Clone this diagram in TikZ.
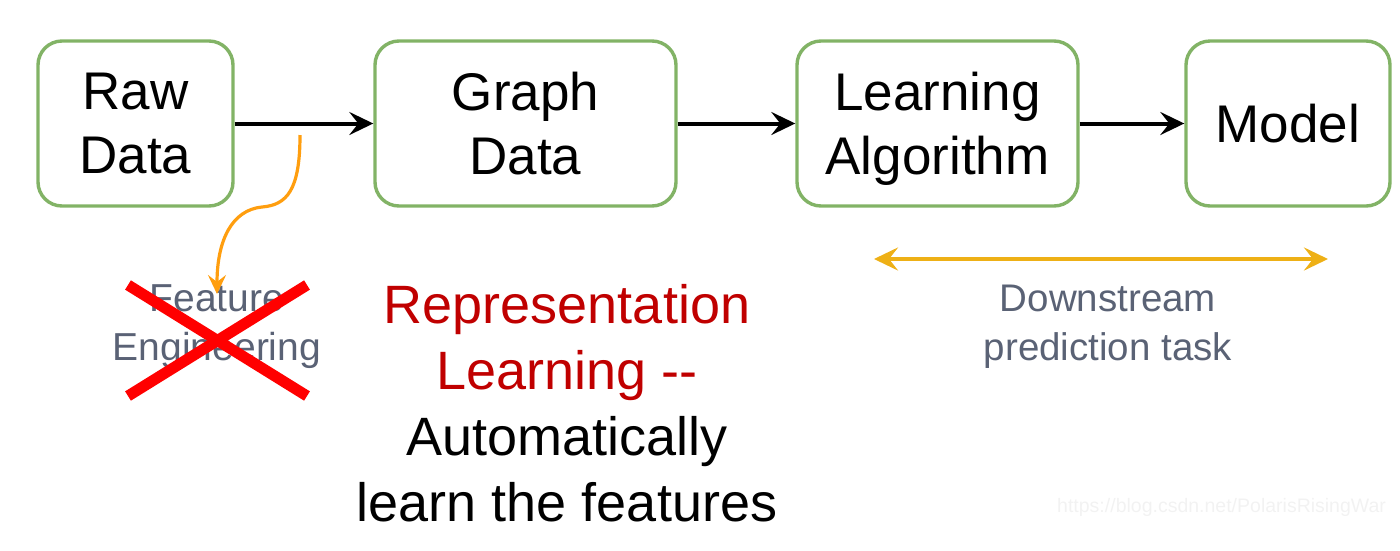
\documentclass[tikz,border=0pt]{standalone}
\usepackage{fontspec}
\setmainfont{Liberation Sans}
\usetikzlibrary{arrows.meta}
\definecolor{boxgreen}{HTML}{82B366}
\definecolor{slate}{HTML}{5A6275}
\definecolor{darkred}{HTML}{C00000}
\definecolor{curveorange}{HTML}{FF9E0F}
\definecolor{gold}{HTML}{EEB016}
\definecolor{wmark}{HTML}{F2F2F2}
\tikzset{
  stagebox/.style={draw=boxgreen, line width=3.4pt, rounded corners=24pt, align=center,
    font=\fontsize{53}{64}\selectfont, inner sep=0pt},
  flow/.style={line width=4pt, -{Stealth[length=24pt,width=23pt,inset=9pt]}},
  note/.style={align=center, inner sep=0pt, anchor=north},
}
\begin{document}
\begin{tikzpicture}[x=1pt,y=-1pt]
\useasboundingbox (0,0) rectangle (1400,550);
\node[stagebox, minimum width=195pt, minimum height=165pt] (raw) at (135.5,123.5) {Raw\\Data};
\node[stagebox, minimum width=301pt, minimum height=165pt] (graph) at (525.5,123.5) {Graph\\Data};
\node[stagebox, minimum width=281pt, minimum height=165pt] (learn) at (937.5,123.5) {Learning\\\raisebox{0pt}[\height][0pt]{Algorithm}};
\node[stagebox, minimum width=204pt, minimum height=165pt] (model) at (1288,123.5) {Model};

\draw[flow] (raw.east) -- (graph.west);
\draw[flow] (graph.east) -- (learn.west);
\draw[flow] (learn.east) -- (model.west);

% feature engineering
\node[note, text=slate, font=\fontsize{39}{49}\selectfont] (feat) at (217,284) {Feature\\Engineering};
\coordinate (fstart) at (300,135);
\draw[curveorange, line width=3.2pt, -{Stealth[length=19pt,width=18pt,inset=7pt]}]
  (fstart) .. controls (300,190) and (287,205) .. (262,207)
  .. controls (232,210) and (217,240) .. ([yshift=-10pt]feat.north);
\draw[red, line width=11pt] (128,285) -- (307,396);
\draw[red, line width=11pt] (307,285) -- (128,396);

% representation learning
\node[note, font=\fontsize{54}{66}\selectfont] (rep) at (567,284)
  {\textcolor{darkred}{Representation}\\\textcolor{darkred}{Learning -{}-}\\Automatically\\learn the features};

% downstream
\coordinate (dl) at (874,259);
\coordinate (dr) at (1328,259);
\draw[gold, line width=4.5pt, {Stealth[length=24pt,width=23pt,inset=9pt]}-{Stealth[length=24pt,width=23pt,inset=9pt]}] (dl) -- (dr);
\node[note, text=slate, font=\fontsize{38.5}{49}\selectfont] (down) at (1108,285) {Downstream\\prediction task};

\node[anchor=base west, inner sep=0pt, text=wmark, font=\fontsize{19.5}{22}\selectfont] (wm) at (1057,512) {https://blog.csdn.net/PolarisRisingWar};
\end{tikzpicture}
\end{document}
